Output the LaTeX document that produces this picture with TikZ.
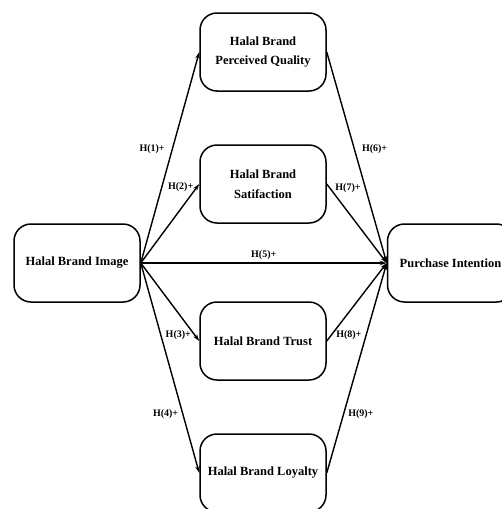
\documentclass[tikz,border=0pt]{standalone}
\usepackage{fontspec}
\setmainfont{Liberation Serif}
\usepackage{tikz}
\usetikzlibrary{arrows.meta,positioning}
\tikzset{
  conbox/.style={
    rectangle, rounded corners=17pt, draw=black, line width=1.5pt,
    minimum width=126pt, minimum height=78pt,
    font=\fontsize{12.5}{19.5}\selectfont\bfseries, align=center,
    inner sep=2pt
  },
  hyparrow/.style={
    -{Stealth[length=7pt,width=4.5pt]}, line width=1.4pt, color=black
  },
  hyplabel/.style={
    font=\fontsize{10}{12}\selectfont\bfseries, inner sep=1pt
  },
}

\begin{document}
\begin{tikzpicture}[x=1pt, y=-1pt]
  \useasboundingbox (0,0) rectangle (502,509);
  \node[conbox] (hbi) at (77,263) {Halal Brand Image};
  \node[conbox, right=246pt of hbi] (purchase) {Purchase Intention};
  \node[conbox] (quality) at (263,52) {Halal Brand\\Perceived Quality};
  \node[conbox] (satis) at (263,184) {Halal Brand\\Satifaction};
  \node[conbox] (trust) at (263,341) {Halal Brand Trust};
  \node[conbox] (loyalty) at (263,473) {Halal Brand Loyalty};
  % image -> mediators
  \draw[hyparrow] (hbi.east) -- node[hyplabel, pos=0.54, left=6pt] {H(1)+} (quality.west);
  \draw[hyparrow] (hbi.east) -- node[hyplabel, pos=0.96, left=2pt] {H(2)+} (satis.west);
  \draw[hyparrow] (hbi.east) -- node[hyplabel, pos=0.92, left=2pt] {H(3)+} (trust.west);
  \draw[hyparrow] (hbi.east) -- node[hyplabel, pos=0.72, left=3pt] {H(4)+} (loyalty.west);
  \draw[hyparrow] (hbi.east) -- node[hyplabel, above=2pt] {H(5)+} (purchase.west);
  % mediators -> intention
  \draw[hyparrow] (quality.east) -- node[hyplabel, pos=0.46, right=6pt] {H(6)+} (purchase.west);
  \draw[hyparrow] (satis.east) -- node[hyplabel, pos=0.05, right=4pt] {H(7)+} (purchase.west);
  \draw[hyparrow] (trust.east) -- node[hyplabel, pos=0.08, right=3pt] {H(8)+} (purchase.west);
  \draw[hyparrow] (loyalty.east) -- node[hyplabel, pos=0.28, right=3pt] {H(9)+} (purchase.west);
\end{tikzpicture}
\end{document}
